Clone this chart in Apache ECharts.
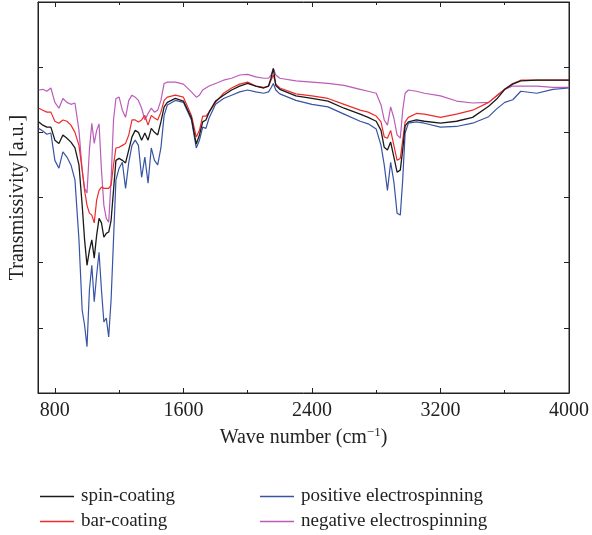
<!DOCTYPE html>
<html>
<head>
<meta charset="utf-8">
<script src="https://cdn.jsdelivr.net/npm/echarts@6/dist/echarts.min.js"></script>
<style>html,body{margin:0;padding:0;background:#fff;}#chart{width:592px;height:535px;}</style>
</head>
<body>
<div id="chart"></div>
<script>
const wavenumbers = [700,725,750,775,800,825,850,875,900,925, 950,970,985,1000,1015,1030,1045,1060,1075,1090,
  1105,1120,1135,1150,1165,1180,1200,1220,1240,1260, 1280,1300,1320,1340,1360,1380,1400,1420,1440,1460,
  1480,1500,1550,1600,1650,1680,1700,1720,1740,1760, 1800,1850,1900,1950,2000,2050,2100,2130,2145,2160,
  2175,2200,2300,2400,2500,2600,2700,2750,2800,2830, 2850,2870,2890,2910,2930,2950,2965,2980,3000,3050,
  3100,3200,3300,3400,3500,3550,3600,3650,3700,3800, 3900,4000];

const spinCoating = [4.16,4.11,4.08,4.08,3.88,3.83,3.96,3.91,3.85,3.76, 3.50,2.88,2.35,1.96,2.19,2.35,2.07,2.42,2.68,2.61,
  2.39,2.45,2.47,2.65,3.11,3.57,3.60,3.57,3.53,3.73, 3.93,4.03,4.00,3.88,3.99,3.88,4.06,4.00,3.96,4.16,
  4.39,4.46,4.52,4.48,4.22,3.82,3.96,4.16,4.19,4.31, 4.48,4.57,4.65,4.71,4.75,4.71,4.68,4.71,4.83,4.98,
  4.72,4.66,4.56,4.52,4.48,4.37,4.28,4.23,4.17,4.03, 3.77,3.73,3.85,3.62,3.39,3.42,3.73,4.10,4.16,4.19,
  4.17,4.14,4.17,4.23,4.40,4.51,4.66,4.74,4.79,4.80, 4.80,4.80];

const barCoating = [4.37,4.34,4.31,4.31,4.17,4.14,4.19,4.17,4.11,4.00, 3.80,3.42,3.11,2.88,2.76,2.73,2.61,2.96,3.11,3.16,
  3.14,3.14,3.14,3.19,3.50,3.76,3.77,3.80,3.83,3.96, 4.19,4.19,4.16,4.19,4.26,4.11,4.26,4.22,4.19,4.31,
  4.49,4.54,4.57,4.54,4.26,3.93,4.03,4.25,4.25,4.31, 4.46,4.60,4.68,4.74,4.77,4.71,4.69,4.71,4.80,4.88,
  4.74,4.68,4.59,4.56,4.52,4.43,4.34,4.31,4.25,4.16, 3.93,3.91,4.03,3.80,3.57,3.60,3.88,4.16,4.23,4.29,
  4.28,4.23,4.28,4.34,4.46,4.56,4.66,4.75,4.80,4.80, 4.80,4.80];

const positiveElectrospinning = [4.06,4.02,3.97,3.99,3.57,3.45,3.70,3.62,3.50,3.27, 2.35,1.27,1.04,0.71,1.58,1.96,1.40,1.81,2.16,1.58,
  1.09,1.15,0.86,1.43,2.35,3.27,3.45,3.54,3.14,3.54, 3.80,3.88,3.80,3.31,3.62,3.22,3.76,3.57,3.50,3.76,
  4.26,4.42,4.49,4.46,4.19,3.76,3.88,4.08,4.06,4.22, 4.43,4.52,4.57,4.62,4.65,4.62,4.60,4.62,4.68,4.75,
  4.65,4.59,4.49,4.43,4.39,4.28,4.17,4.13,4.05,3.80, 3.50,3.11,3.54,3.24,2.76,2.73,3.27,3.99,4.14,4.16,
  4.14,4.08,4.09,4.14,4.24,4.36,4.46,4.50,4.63,4.60, 4.66,4.68];

const negativeElectrospinning = [4.65,4.66,4.63,4.68,4.46,4.37,4.52,4.46,4.43,4.45, 4.03,3.42,3.14,3.07,3.73,4.14,3.83,4.03,4.13,3.42,
  2.88,2.68,2.62,3.27,4.19,4.52,4.54,4.34,4.23,4.49, 4.57,4.54,4.49,4.37,4.19,4.29,4.37,4.31,4.34,4.49,
  4.75,4.77,4.77,4.74,4.62,4.54,4.57,4.65,4.68,4.71, 4.75,4.80,4.83,4.88,4.89,4.85,4.83,4.83,4.88,4.98,
  4.88,4.83,4.79,4.77,4.75,4.72,4.66,4.63,4.60,4.42, 4.19,4.11,4.39,4.22,3.96,3.91,4.34,4.60,4.65,4.63,
  4.60,4.56,4.48,4.45,4.46,4.56,4.66,4.71,4.71,4.71, 4.69,4.69];

const xMajorTicks = [800, 1600, 2400, 3200, 4000];
const xMinorTicks = [1200, 2000, 2800, 3600];
const seriesNames = ['spin-coating', 'bar-coating', 'positive electrospinning', 'negative electrospinning'];

const FONT = 'Liberation Serif';
const pair = vals => wavenumbers.map((w, i) => [w, vals[i]]);

const xBase = {type: 'value', min: 695, max: 4000, splitLine: {show: false}, gridIndex: 0};
const legendAt = (name, left, top) => ({
  data: [name], orient: 'horizontal', left: left, top: top,
  icon: 'rect', itemWidth: 34, itemHeight: 1.5, itemGap: 0,
  textStyle: {fontFamily: FONT, fontSize: 19, color: '#222', padding: [0, 0, 0, 2]}
});
const chart = echarts.init(document.getElementById('chart'), null, {renderer: 'canvas'});
chart.setOption({
  animation: false,
  backgroundColor: '#fff',
  grid: {left: 38, right: 21, top: 2, bottom: 142, show: true, borderColor: '#222', borderWidth: 1, backgroundColor: 'transparent'},
  xAxis: [
    Object.assign({}, xBase, {
      position: 'bottom',
      axisLine: {show: true, lineStyle: {color: '#222', width: 1}},
      axisTick: {show: true, inside: true, length: 5, customValues: xMajorTicks, lineStyle: {color: '#222'}},
      axisLabel: {show: true, customValues: xMajorTicks, margin: 8, color: '#222', fontFamily: FONT, fontSize: 20,
        formatter: v => String(v)},
      name: '{t|Wave number (cm}{s|−1}{t|)}',
      nameLocation: 'middle', nameGap: 32,
      nameTextStyle: {rich: {t: {fontFamily: FONT, fontSize: 20, color: '#222'}, s: {fontFamily: FONT, fontSize: 13, color: '#222', verticalAlign: 'top', padding: [0, 0, 10, 0]}}}
    }),
    Object.assign({}, xBase, {
      position: 'bottom', axisLine: {show: false},
      axisTick: {show: true, inside: true, length: 3, customValues: xMinorTicks, lineStyle: {color: '#222'}},
      axisLabel: {show: false}
    }),
    Object.assign({}, xBase, {
      position: 'top', axisLine: {show: true, lineStyle: {color: '#222'}},
      axisTick: {show: true, inside: true, length: 5, customValues: xMajorTicks, lineStyle: {color: '#222'}},
      axisLabel: {show: false}
    }),
    Object.assign({}, xBase, {
      position: 'top', axisLine: {show: false},
      axisTick: {show: true, inside: true, length: 3, customValues: xMinorTicks, lineStyle: {color: '#222'}},
      axisLabel: {show: false}
    })
  ],
  yAxis: [
    {
      type: 'value', min: 0, max: 6, interval: 1, position: 'left',
      splitLine: {show: false},
      axisLine: {show: true, lineStyle: {color: '#222'}},
      axisTick: {show: true, inside: true, length: 5, lineStyle: {color: '#222'}},
      axisLabel: {show: false},
      name: 'Transmissivity [a.u.]', nameLocation: 'middle', nameRotate: 90, nameGap: 10,
      nameTextStyle: {fontFamily: FONT, fontSize: 20, color: '#222'}
    },
    {
      type: 'value', min: 0, max: 6, interval: 1, position: 'right',
      splitLine: {show: false},
      axisLine: {show: true, lineStyle: {color: '#222'}},
      axisTick: {show: true, inside: true, length: 5, lineStyle: {color: '#222'}},
      axisLabel: {show: false}
    }
  ],
  legend: [
    legendAt(seriesNames[0], 35, 482),
    legendAt(seriesNames[1], 35, 507),
    legendAt(seriesNames[2], 255, 482),
    legendAt(seriesNames[3], 255, 507)
  ],
  series: [
    {name: seriesNames[3], type: 'line', data: pair(negativeElectrospinning), showSymbol: false, symbol: 'none', color: '#bb5cba', lineStyle: {width: 1.2}},
    {name: seriesNames[2], type: 'line', data: pair(positiveElectrospinning), showSymbol: false, symbol: 'none', color: '#3853a4', lineStyle: {width: 1.2}},
    {name: seriesNames[1], type: 'line', data: pair(barCoating), showSymbol: false, symbol: 'none', color: '#ee2b2b', lineStyle: {width: 1.2}},
    {name: seriesNames[0], type: 'line', data: pair(spinCoating), showSymbol: false, symbol: 'none', color: '#1a1a1a', lineStyle: {width: 1.3}}
  ]
});
</script>
</body>
</html>
